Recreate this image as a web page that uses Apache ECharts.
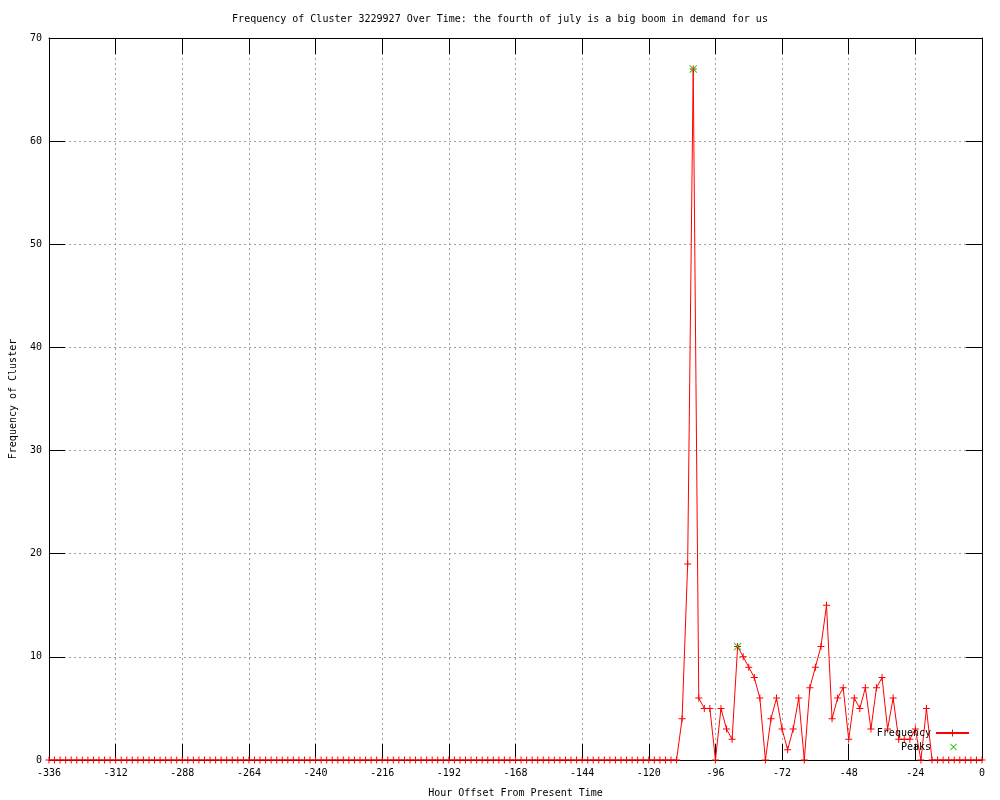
<!DOCTYPE html>
<html>
<head>
<meta charset="utf-8">
<script src="https://cdn.jsdelivr.net/npm/echarts@6/dist/echarts.min.js"></script>
<style>
html,body{margin:0;padding:0;background:#fff;}
#chart{width:1000px;height:800px;}
</style>
</head>
<body>
<div id="chart"></div>
<script>
// Hour offsets (every 2 hours from -336 to 0)
var hours = [
-336,-334,-332,-330,-328,-326,-324,-322,-320,-318,-316,-314,-312,-310,-308,-306,-304,-302,-300,-298,
-296,-294,-292,-290,-288,-286,-284,-282,-280,-278,-276,-274,-272,-270,-268,-266,-264,-262,-260,-258,
-256,-254,-252,-250,-248,-246,-244,-242,-240,-238,-236,-234,-232,-230,-228,-226,-224,-222,-220,-218,
-216,-214,-212,-210,-208,-206,-204,-202,-200,-198,-196,-194,-192,-190,-188,-186,-184,-182,-180,-178,
-176,-174,-172,-170,-168,-166,-164,-162,-160,-158,-156,-154,-152,-150,-148,-146,-144,-142,-140,-138,
-136,-134,-132,-130,-128,-126,-124,-122,-120,-118,-116,-114,-112,-110,-108,-106,-104,-102,-100,-98,
-96,-94,-92,-90,-88,-86,-84,-82,-80,-78,-76,-74,-72,-70,-68,-66,-64,-62,-60,-58,
-56,-54,-52,-50,-48,-46,-44,-42,-40,-38,-36,-34,-32,-30,-28,-26,-24,-22,-20,-18,
-16,-14,-12,-10,-8,-6,-4,-2,0
];
// Frequency values at each hour offset
var frequency = [
0,0,0,0,0,0,0,0,0,0,0,0,0,0,0,0,0,0,0,0,
0,0,0,0,0,0,0,0,0,0,0,0,0,0,0,0,0,0,0,0,
0,0,0,0,0,0,0,0,0,0,0,0,0,0,0,0,0,0,0,0,
0,0,0,0,0,0,0,0,0,0,0,0,0,0,0,0,0,0,0,0,
0,0,0,0,0,0,0,0,0,0,0,0,0,0,0,0,0,0,0,0,
0,0,0,0,0,0,0,0,0,0,0,0,0,0,4,19,67,6,5,5,
0,5,3,2,11,10,9,8,6,0,4,6,3,1,3,6,0,7,9,11,
15,4,6,7,2,6,5,7,3,7,8,3,6,2,2,2,3,0,5,0,
0,0,0,0,0,0,0,0,0
];
// Peaks
var peakHours = [-104, -88];
var peakValues = [67, 11];

var xTicks = {min: -336, max: 0, interval: 24};
var yTicks = {min: 0, max: 70, interval: 10};

var freqData = hours.map(function(h, i){ return [h, frequency[i]]; });
var peakData = peakHours.map(function(h, i){ return [h, peakValues[i]]; });

var FONT = 'DejaVu Sans Mono';
var plusPath = 'path://M0,3H7V4H0Z M3,0H4V7H3Z';
var xPath = 'path://M0,0.7L0.7,0L7,6.3L6.3,7Z M6.3,0L7,0.7L0.7,7L0,6.3Z';

var chart = echarts.init(document.getElementById('chart'), null, {renderer: 'canvas'});
var axisLine = {show: true, onZero: false, lineStyle: {color: '#000', width: 1}};
var tickIn = {show: true, inside: true, length: 16, lineStyle: {color: '#000', width: 1}};
var grid = {show: true, lineStyle: {color: '#a0a0a0', width: 1, type: [2, 3]}};
var labelStyle = {color: '#000', fontFamily: FONT, fontSize: 10};

chart.setOption({
  animation: false,
  backgroundColor: '#fff',
  title: {
    text: 'Frequency of Cluster 3229927 Over Time: the fourth of july is a big boom in demand for us',
    left: 'center', top: 14, padding: 0,
    textStyle: {color: '#000', fontFamily: FONT, fontSize: 10, fontWeight: 'normal'}
  },
  grid: {left: 49, right: 18, top: 38, bottom: 40, outerBoundsMode: 'none', containLabel: false},
  legend: [
    {
      data: [{name: 'Frequency'}],
      orient: 'vertical', align: 'right', right: 30, top: 728, padding: 0,
      itemWidth: 33, itemHeight: 9, selectedMode: false,
      textStyle: {color: '#000', fontFamily: FONT, fontSize: 10}
    },
    {
      data: [{name: 'Peaks'}],
      orient: 'vertical', align: 'right', right: 43, top: 742, padding: 0,
      itemWidth: 7, itemHeight: 7, selectedMode: false,
      textStyle: {color: '#000', fontFamily: FONT, fontSize: 10, padding: [0, 14, 0, 0]}
    }
  ],
  xAxis: [
    {
      type: 'value', position: 'bottom', min: xTicks.min, max: xTicks.max, interval: xTicks.interval,
      axisLine: axisLine, axisTick: tickIn, splitLine: grid,
      axisLabel: Object.assign({margin: 8}, labelStyle),
      name: 'Hour Offset From Present Time', nameLocation: 'middle', nameGap: 28,
      nameTextStyle: {color: '#000', fontFamily: FONT, fontSize: 10}
    },
    {
      type: 'value', position: 'top', min: xTicks.min, max: xTicks.max, interval: xTicks.interval,
      axisLine: axisLine, axisTick: tickIn, splitLine: {show: false}, axisLabel: {show: false}
    }
  ],
  yAxis: [
    {
      type: 'value', position: 'left', min: yTicks.min, max: yTicks.max, interval: yTicks.interval,
      axisLine: axisLine, axisTick: tickIn, splitLine: grid,
      axisLabel: Object.assign({margin: 7}, labelStyle),
      name: 'Frequency of Cluster', nameLocation: 'middle', nameGap: 31, nameRotate: 90,
      nameTextStyle: {color: '#000', fontFamily: FONT, fontSize: 10}
    },
    {
      type: 'value', position: 'right', min: yTicks.min, max: yTicks.max, interval: yTicks.interval,
      axisLine: axisLine, axisTick: tickIn, splitLine: {show: false}, axisLabel: {show: false}
    }
  ],
  series: [
    {
      name: 'Frequency', type: 'line', data: freqData,
      xAxisIndex: 0, yAxisIndex: 0,
      symbol: plusPath, symbolSize: 7, showSymbol: true, showAllSymbol: true,
      itemStyle: {color: '#ff0000'},
      lineStyle: {color: '#ff0000', width: 1},
      z: 3
    },
    {
      name: 'Peaks', type: 'scatter', data: peakData,
      xAxisIndex: 0, yAxisIndex: 0,
      symbol: xPath, symbolSize: 8,
      itemStyle: {color: '#00c000'},
      z: 4
    }
  ]
});
</script>
</body>
</html>
